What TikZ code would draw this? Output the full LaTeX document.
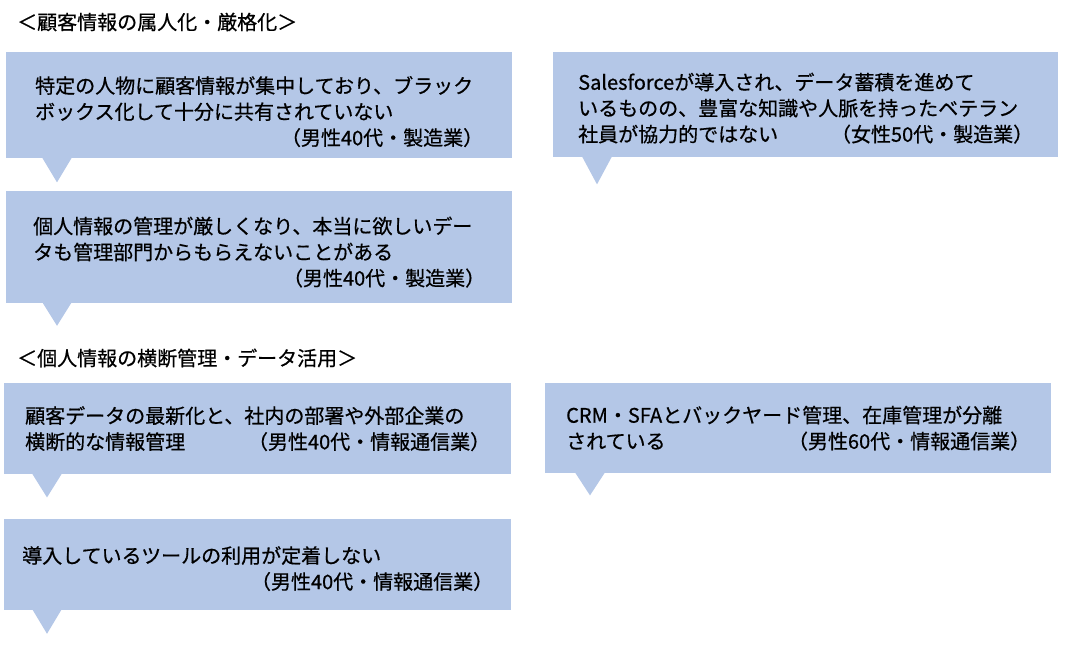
\documentclass[tikz,border=0pt]{standalone}
\usepackage{fontspec}
\setmainfont{Noto Sans CJK JP}[FakeBold=0.6]
\usepackage{tikz}
\usetikzlibrary{positioning}
\definecolor{calloutblue}{RGB}{180,199,231}
\newcommand{\who}[1]{\hspace*{0pt plus 1filll}（#1）}
\newcommand{\lift}[1]{\rule{0pt}{#1}}

\begin{document}
\begin{tikzpicture}[x=1pt, y=-1pt,
    callout/.style={fill=calloutblue, rectangle, anchor=north west, align=left, inner xsep=0pt, inner ysep=0pt, font=\fontsize{20pt}{26pt}\selectfont},
    heading/.style={anchor=west, inner sep=0pt, font=\fontsize{20pt}{26pt}\selectfont}]
    \useasboundingbox (0,0) rectangle (1068,647);

    \node (head1) [heading] at (17,22) {＜顧客情報の属人化・厳格化＞};
    \node (b1) [callout, minimum width=506pt, minimum height=106pt, text width=448pt] at (6,52) {\lift{30pt}特定の人物に顧客情報が集中しており、ブラック\\ボックス化して十分に共有されていない\\\who{男性40代・製造業}};
    \node (b2) [callout, below=32pt of b1, minimum width=506pt, minimum height=112pt, text width=452pt] {\lift{28pt}個人情報の管理が厳しくなり、本当に欲しいデー\\タも管理部門からもらえないことがある\\\who{男性40代・製造業}};
    \node (b3) [callout, minimum width=505pt, minimum height=105pt, text width=455pt] at (553,52) {\lift{24pt}Salesforceが導入され、データ蓄積を進めて\\いるものの、豊富な知識や人脈を持ったベテラン\\社員が協力的ではない\who{女性50代・製造業}};

    \node (head2) [heading] at (17,358) {＜個人情報の横断管理・データ活用＞};
    \node (b4) [callout, minimum width=507pt, minimum height=91pt, text width=465pt] at (4,383) {顧客データの最新化と、社内の部署や外部企業の\\横断的な情報管理\who{男性40代・情報通信業}};
    \node (b5) [callout, below=44pt of b4, minimum width=507pt, minimum height=91pt, text width=471pt] {\lift{26pt}導入しているツールの利用が定着しない\\\who{男性40代・情報通信業}};
    \node (b6) [callout, minimum width=506pt, minimum height=90pt, text width=464pt] at (545,383) {CRM・SFAとバックヤード管理、在庫管理が分離\\されている\who{男性60代・情報通信業}};

    \fill[calloutblue] (b1.south west) ++(36,-1) -- ++(15,25) -- ++(15,-25) -- cycle;
    \fill[calloutblue] (b2.south west) ++(36,-1) -- ++(15,24) -- ++(15,-24) -- cycle;
    \fill[calloutblue] (b3.south west) ++(29,-1) -- ++(15,28) -- ++(15,-28) -- cycle;
    \fill[calloutblue] (b4.south west) ++(28,-1) -- ++(15,24) -- ++(15,-24) -- cycle;
    \fill[calloutblue] (b5.south west) ++(28,-1) -- ++(15,25) -- ++(15,-25) -- cycle;
    \fill[calloutblue] (b6.south west) ++(30,-1) -- ++(15,23) -- ++(15,-23) -- cycle;
\end{tikzpicture}
\end{document}
